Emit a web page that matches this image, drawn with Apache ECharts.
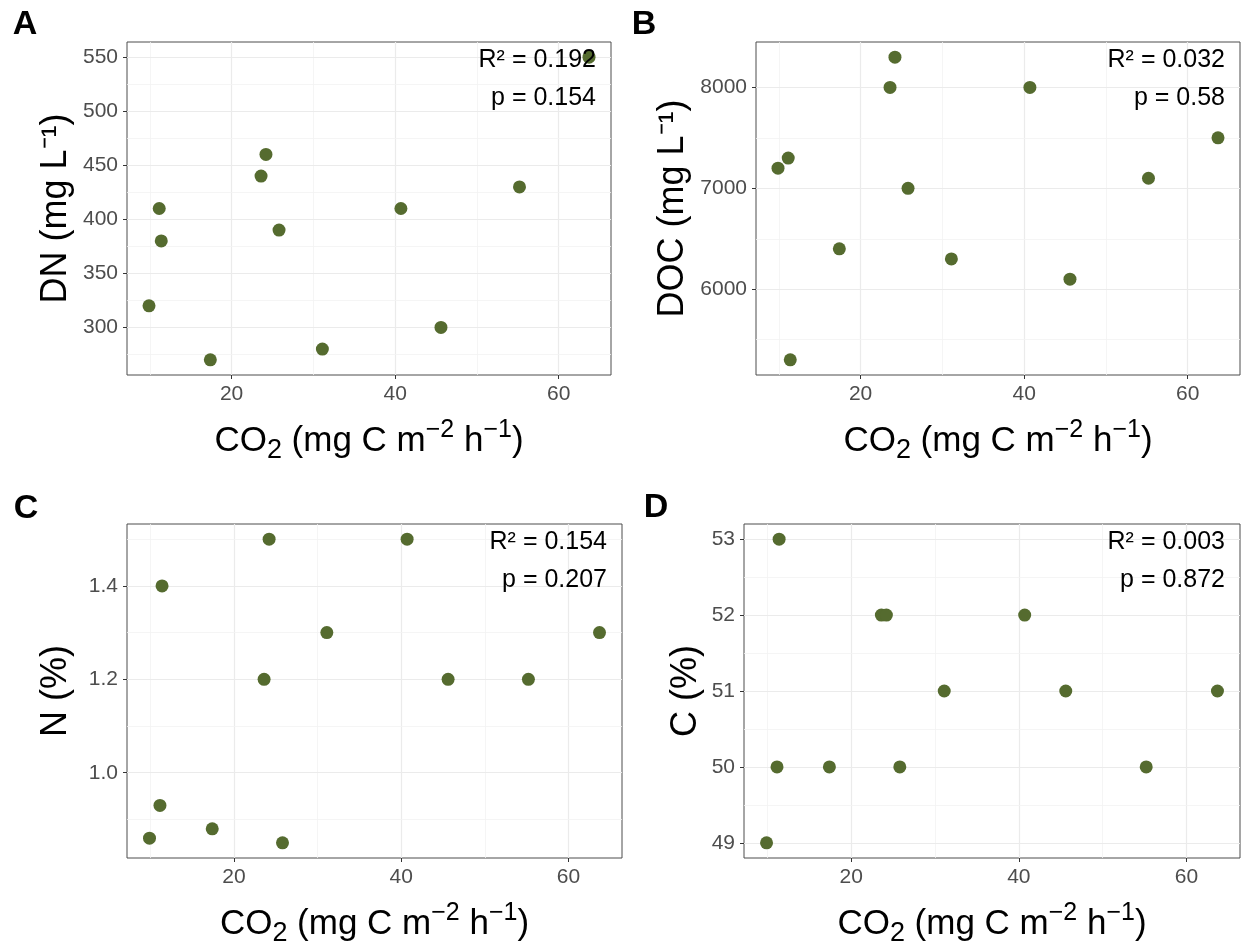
<!DOCTYPE html>
<html><head><meta charset="utf-8">
<script src="https://cdn.jsdelivr.net/npm/echarts@6/dist/echarts.min.js"></script>
<style>html,body{margin:0;padding:0;background:#fff}#c{width:1242px;height:945px}</style>
</head><body><div id="c"></div>
<script>
// ---- data ----
const co2 = [9.9, 11.15, 11.4, 17.4, 23.6, 24.2, 25.8, 31.1, 40.7, 45.6, 55.2, 63.7];
const dn  = [320, 410, 380, 270, 440, 460, 390, 280, 410, 300, 430, 550];
const doc = [7200, 7300, 5300, 6400, 8000, 8300, 7000, 6300, 8000, 6100, 7100, 7500];
const nPct = [0.86, 0.93, 1.40, 0.88, 1.20, 1.50, 0.85, 1.30, 1.50, 1.20, 1.20, 1.30];
const cPct = [49, 50, 53, 50, 52, 52, 50, 51, 52, 51, 50, 51];

const xTicks = [20, 40, 60];
const xMinor = [10, 30, 50];
const dnTicks = [300, 350, 400, 450, 500, 550];
const dnMinor = [275, 325, 375, 425, 475, 525];
const docTicks = [6000, 7000, 8000];
const docMinor = [5500, 6500, 7500];
const nTicks = [1.0, 1.2, 1.4];
const nMinor = [0.9, 1.1, 1.3, 1.5];
const cTicks = [49, 50, 51, 52, 53];
const cMinor = [49.5, 50.5, 51.5, 52.5];

const panelLetters = ['A', 'B', 'C', 'D'];
const yTitles = ['DN (mg L⁻¹)', 'DOC (mg L⁻¹)', 'N (%)', 'C (%)'];
const xTitle = 'CO{sub|2} (mg C m{sup|−2} h{sup|−1})';
const r2Labels = ['R² = 0.192', 'R² = 0.032', 'R² = 0.154', 'R² = 0.003'];
const pLabels = ['p = 0.154', 'p = 0.58', 'p = 0.207', 'p = 0.872'];

const yValues = [dn, doc, nPct, cPct];
const yMajor = [dnTicks, docTicks, nTicks, cTicks];
const yMinorAll = [dnMinor, docMinor, nMinor, cMinor];

// ---- layout ----
const grids = [
  {left: 127, top: 42, width: 484, height: 333},
  {left: 756, top: 42, width: 484, height: 333},
  {left: 127, top: 524, width: 495, height: 334},
  {left: 744, top: 524, width: 496, height: 334}
];
const yNameGaps = [50, 62, 50, 37];
const letterPos = [[25, 25], [644, 25], [26, 509], [656, 508]];
const FONT = 'Liberation Sans, Arial, sans-serif';
const GREEN = '#556B2F';

function expand(arr) {
  const mn = Math.min(...arr), mx = Math.max(...arr), r = mx - mn;
  return [mn - 0.05 * r, mx + 0.05 * r];
}
const xr = expand(co2);

const option = {
  animation: false,
  backgroundColor: '#ffffff',
  textStyle: {fontFamily: FONT},
  grid: [], xAxis: [], yAxis: [], series: [], graphic: []
};

for (let i = 0; i < 4; i++) {
  const g = grids[i];
  option.grid.push(Object.assign({show: true, borderColor: '#4d4d4d', borderWidth: 1,
    backgroundColor: 'transparent', containLabel: false, outerBoundsMode: 'none'}, g));
  const yr = expand(yValues[i]);
  option.xAxis.push({
    type: 'value', gridIndex: i, min: xr[0], max: xr[1], splitNumber: 3,
    axisLine: {show: false},
    axisTick: {show: true, length: 4, lineStyle: {color: '#333', width: 1}, customValues: xTicks},
    axisLabel: {show: true, margin: 9, color: '#4D4D4D', fontSize: 21, fontFamily: FONT,
      customValues: xTicks},
    splitLine: {show: false},
    name: xTitle, nameLocation: 'middle', nameGap: 43, nameMoveOverlap: false,
    nameTextStyle: {
      color: '#000', fontSize: 35, lineHeight: 46, fontFamily: FONT,
      rich: {
        sub: {fontSize: 27, lineHeight: 25, verticalAlign: 'bottom', color: '#000', fontFamily: FONT},
        sup: {fontSize: 25, lineHeight: 14, verticalAlign: 'top', color: '#000', fontFamily: FONT}
      }
    }
  });
  option.yAxis.push({
    type: 'value', gridIndex: i, min: yr[0], max: yr[1], splitNumber: (i === 1 || i === 2) ? 3 : 5,
    axisLine: {show: false},
    axisTick: {show: true, length: 4, lineStyle: {color: '#333', width: 1}, customValues: yMajor[i]},
    axisLabel: {show: true, margin: 9, color: '#4D4D4D', fontSize: 21, fontFamily: FONT,
      customValues: yMajor[i],
      formatter: (v) => (i === 2 ? Number(v).toFixed(1) : String(v))},
    splitLine: {show: false},
    name: yTitles[i], nameLocation: 'middle', nameGap: yNameGaps[i], nameMoveOverlap: false,
    nameTextStyle: {color: '#000', fontSize: 36, lineHeight: 42, fontFamily: FONT}
  });
  const gridLines = [];
  xTicks.forEach(v => gridLines.push({xAxis: v, lineStyle: {color: '#EBEBEB', width: 1.2, type: 'solid'}}));
  xMinor.forEach(v => gridLines.push({xAxis: v, lineStyle: {color: '#F2F2F2', width: 0.8, type: 'solid'}}));
  yMajor[i].forEach(v => gridLines.push({yAxis: v, lineStyle: {color: '#EBEBEB', width: 1.2, type: 'solid'}}));
  yMinorAll[i].forEach(v => gridLines.push({yAxis: v, lineStyle: {color: '#F2F2F2', width: 0.8, type: 'solid'}}));
  option.series.push({
    type: 'line', xAxisIndex: i, yAxisIndex: i, data: [], z: 1, silent: true,
    markLine: {silent: true, symbol: 'none', z: 1, label: {show: false}, animation: false,
      emphasis: {disabled: true}, data: gridLines}
  });
  option.series.push({
    type: 'scatter', xAxisIndex: i, yAxisIndex: i, z: 3,
    symbol: 'circle', symbolSize: 13,
    itemStyle: {color: GREEN, opacity: 1},
    data: co2.map((x, k) => [x, yValues[i][k]])
  });
  const rx = g.left + g.width - 15;
  option.graphic.push({
    type: 'text', x: rx, y: g.top + 18, silent: true, z: 10,
    style: {text: r2Labels[i], font: '25px ' + FONT, fill: '#000', align: 'right', verticalAlign: 'middle'}
  });
  option.graphic.push({
    type: 'text', x: rx, y: g.top + 56, silent: true, z: 10,
    style: {text: pLabels[i], font: '25px ' + FONT, fill: '#000', align: 'right', verticalAlign: 'middle'}
  });
  option.graphic.push({
    type: 'text', x: letterPos[i][0], y: letterPos[i][1], silent: true,
    style: {text: panelLetters[i], font: 'bold 34px ' + FONT, fill: '#000', align: 'center', verticalAlign: 'middle'}
  });
}

const chart = echarts.init(document.getElementById('c'), null, {renderer: 'canvas'});
chart.setOption(option);
</script></body></html>
